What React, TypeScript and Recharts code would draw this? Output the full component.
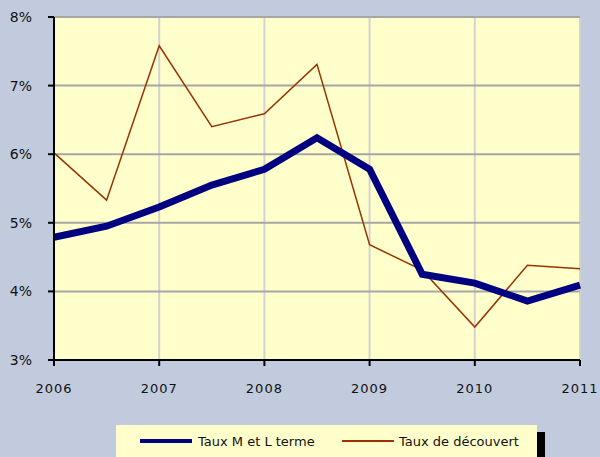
import React from "react";
import {
  LineChart,
  Line,
  XAxis,
  YAxis,
  CartesianGrid,
  Legend,
} from "recharts";

// half-year points, 2006 -> 2011
const years = [2006, 2006.5, 2007, 2007.5, 2008, 2008.5, 2009, 2009.5, 2010, 2010.5, 2011];
const tauxMLTerme = [4.79, 4.95, 5.23, 5.55, 5.78, 6.24, 5.78, 4.25, 4.12, 3.86, 4.09];
const tauxDecouvert = [6.02, 5.33, 7.58, 6.4, 6.59, 7.31, 4.68, 4.31, 3.48, 4.38, 4.33];

const xTicks = [2006, 2007, 2008, 2009, 2010, 2011];
const yTicks = [3, 4, 5, 6, 7, 8];

const seriesNames = ["Taux M et L terme", "Taux de découvert"];

const data = years.map((year, i) => ({
  year,
  mlt: tauxMLTerme[i],
  dec: tauxDecouvert[i],
}));

const FONT = "'DejaVu Sans', Verdana, sans-serif";

const LegendBox = () => (
  <div
    style={{
      width: 421,
      height: 32,
      background: "#ffffcc",
      boxShadow: "8px 7px 0 0 #000",
      fontFamily: FONT,
      fontSize: 13,
      color: "#111",
      display: "flex",
      alignItems: "center",
      boxSizing: "border-box",
      paddingLeft: 24,
    }}
  >
    <span
      style={{
        display: "inline-block",
        width: 52,
        height: 4,
        background: "#000080",
        marginRight: 6,
      }}
    />
    <span style={{ width: 144 }}>{seriesNames[0]}</span>
    <span
      style={{
        display: "inline-block",
        width: 52,
        height: 2,
        background: "#993300",
        marginRight: 5,
      }}
    />
    <span>{seriesNames[1]}</span>
  </div>
);

const App: React.FC = () => {
  return (
    <div
      style={{
        position: "absolute",
        left: 0,
        top: 0,
        width: 600,
        height: 457,
        background: "#c1cbdd",
        overflow: "hidden",
      }}
    >
      <LineChart
        width={600}
        height={457}
        data={data}
        margin={{ top: 17, right: 20, left: 0, bottom: 0 }}
      >
        <CartesianGrid
          fill="#ffffcc"
          horizontal={false}
          stroke="#d2d2d2"
          strokeWidth={2}
        />
        <CartesianGrid vertical={false} stroke="#a6a6a6" strokeWidth={2} />
        <XAxis
          dataKey="year"
          type="number"
          domain={[2006, 2011]}
          ticks={xTicks}
          height={97}
          axisLine={{ stroke: "#000", strokeWidth: 2 }}
          tickLine={{ stroke: "#000", strokeWidth: 2 }}
          tickSize={6}
          tickMargin={18}
          tick={{ fill: "#111", fontSize: 13, fontFamily: FONT, letterSpacing: 1 }}
          interval={0}
        />
        <YAxis
          type="number"
          domain={[3, 8]}
          ticks={yTicks}
          width={54}
          axisLine={{ stroke: "#000", strokeWidth: 2 }}
          tickLine={{ stroke: "#000", strokeWidth: 2 }}
          tickSize={6}
          tickMargin={16}
          tickFormatter={(v: number) => `${v}%`}
          tick={{ fill: "#111", fontSize: 14, fontFamily: FONT }}
          interval={0}
        />
        <Line
          dataKey="dec"
          name={seriesNames[1]}
          stroke="#993300"
          strokeWidth={1.5}
          dot={false}
          type="linear"
          isAnimationActive={false}
        />
        <Line
          dataKey="mlt"
          name={seriesNames[0]}
          stroke="#000080"
          strokeWidth={7}
          dot={false}
          type="linear"
          strokeLinejoin="miter"
          isAnimationActive={false}
        />
        <Legend
          layout="horizontal"
          verticalAlign="middle"
          align="center"
          content={() => <LegendBox />}
          wrapperStyle={{ position: "absolute", left: 116, top: 425, width: 421, height: 32 }}
        />
      </LineChart>
    </div>
  );
};

export default App;
